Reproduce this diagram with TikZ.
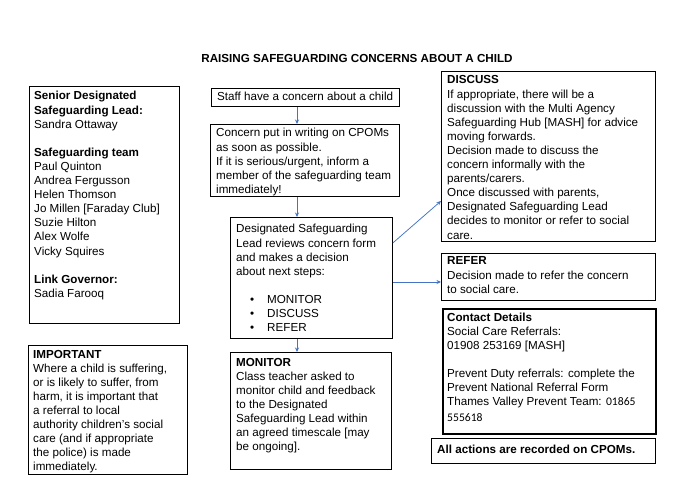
\documentclass[tikz,border=0pt]{standalone}
\usepackage{fontspec}
\setmainfont{Liberation Sans}
\newfontfamily\numfont{Carlito}
\usetikzlibrary{arrows.meta}
\definecolor{arrowblue}{HTML}{4472C4}
\newcommand\fs{\fontsize{11.65pt}{14.1pt}\selectfont}
\newcommand\tb[2]{\parbox[t]{#1}{\raggedright\fs #2}}
\newcommand\bitem[1]{\makebox[31pt][l]{\hspace*{14pt}\textbullet}#1}
\begin{document}
\begin{tikzpicture}[x=1pt,y=-1pt,
  box/.style={draw, line width=0.8pt, inner sep=0, anchor=north west},
  thickbox/.style={box, line width=2.2pt},
  txt/.style={anchor=base west, inner sep=0},
  arr/.style={draw=arrowblue, line width=0.75pt, -{Stealth[length=4.5pt,width=4pt]}}]
\useasboundingbox[fill=white] (0,0) rectangle (688,497);

\node[inner sep=0, anchor=base, font=\fs\bfseries] (title) at (357,63) {RAISING SAFEGUARDING CONCERNS ABOUT A CHILD};

% left column
\node[box, minimum width=150pt, minimum height=237pt] (team) at (29,86) {};
\node[txt] (teamtxt) at (34,100) {\tb{145pt}{\textbf{Senior Designated}\\ \textbf{Safeguarding Lead:}\\ Sandra Ottaway\\[14.1pt] \textbf{Safeguarding team}\\ Paul Quinton\\ Andrea Fergusson\\ Helen Thomson\\ Jo Millen [Faraday Club]\\ Suzie Hilton\\ Alex Wolfe\\ Vicky Squires\\[14.1pt] \textbf{Link Governor:}\\ Sadia Farooq}};

\node[box, minimum width=159pt, minimum height=129pt] (important) at (28,345) {};
\node[txt] (importanttxt) at (33,358) {\tb{152pt}{\textbf{IMPORTANT}\\ Where a child is suffering,\\ or is likely to suffer, from\\ harm, it is important that\\ a referral to local\\ authority children's social\\ care (and if appropriate\\ the police) is made\\ immediately.}};

% middle column
\node[box, minimum width=188pt, minimum height=18pt] (staff) at (211,88) {};
\node[txt] (stafftxt) at (217,101) {\tb{182pt}{Staff have a concern about a child}};

\node[box, minimum width=189pt, minimum height=72pt] (concern) at (210,124) {};
\node[txt] (concerntxt) at (216,137) {\tb{182pt}{Concern put in writing on CPOMs\\ as soon as possible.\\ If it is serious/urgent, inform a\\ member of the safeguarding team\\ immediately!}};

\node[box, minimum width=162pt, minimum height=121pt] (dsl) at (230,217) {};
\node[txt] (dsltxt) at (236,233) {\tb{156pt}{Designated Safeguarding\\ Lead reviews concern form\\ and makes a decision\\ about next steps:\\[14.1pt] \bitem{MONITOR}\\ \bitem{DISCUSS}\\ \bitem{REFER}}};

\node[box, minimum width=161pt, minimum height=117pt] (monitor) at (230,352) {};
\node[txt] (monitortxt) at (236,366) {\tb{156pt}{\textbf{MONITOR}\\ Class teacher asked to\\ monitor child and feedback\\ to the Designated\\ Safeguarding Lead within\\ an agreed timescale [may\\ be ongoing].}};

% right column
\node[box, minimum width=214pt, minimum height=170pt] (discuss) at (441,71) {};
\node[txt] (discusstxt) at (447,84) {\tb{208pt}{\textbf{DISCUSS}\\ If appropriate, there will be a\\ discussion with the Multi Agency\\ Safeguarding Hub [MASH] for advice\\ moving forwards.\\ Decision made to discuss the\\ concern informally with the\\ parents/carers.\\ Once discussed with parents,\\ Designated Safeguarding Lead\\ decides to monitor or refer to social\\ care.}};

\node[box, minimum width=214pt, minimum height=47pt] (refer) at (441,253) {};
\node[txt] (refertxt) at (447,265) {\tb{208pt}{\textbf{REFER}\\ Decision made to refer the concern\\ to social care.}};

\node[thickbox, minimum width=213pt, minimum height=125pt] (contact) at (441.5,307.5) {};
\node[txt] (contacttxt) at (447,321) {\tb{204pt}{\textbf{Contact Details}\\ Social Care Referrals:\\ 01908 253169 [MASH]\\[14.1pt] Prevent Duty referrals: complete the\\ Prevent National Referral Form\\ Thames Valley Prevent Team: {\numfont 01865}\\[2pt] {\numfont 555618}}};

\node[box, minimum width=224pt, minimum height=25pt] (actions) at (431,438) {};
\node[txt] (actionstxt) at (437,453) {\tb{218pt}{\textbf{All actions are recorded on CPOMs.}}};

% connectors
\coordinate (ax) at (297,0);
\draw[arr] (staff.south -| ax) -- (concern.north -| ax);
\draw[arr] (concern.south -| ax) -- (dsl.north -| ax);
\draw[arr] (dsl.south -| ax) -- (monitor.north -| ax);
\draw[arr] ([yshift=-26pt]dsl.north east) -- ([yshift=-130pt]discuss.north west);
\draw[arr] ([yshift=-65pt]dsl.north east) -- ([yshift=-29pt]refer.north west);
\end{tikzpicture}
\end{document}
